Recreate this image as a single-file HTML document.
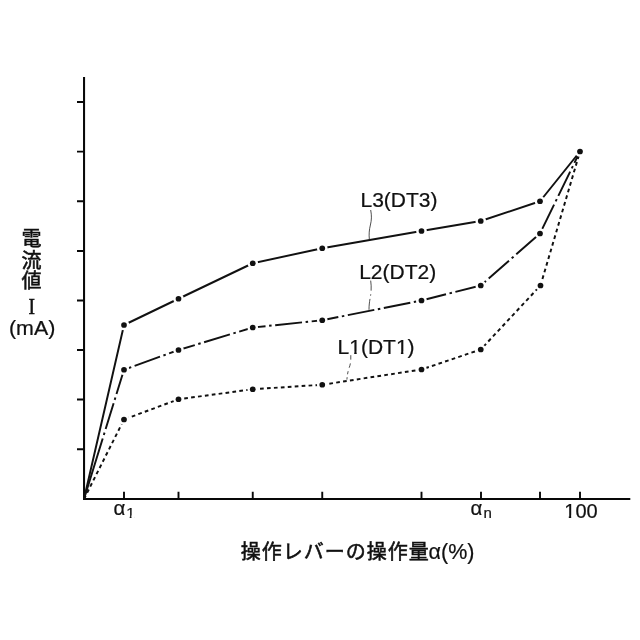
<!DOCTYPE html>
<html lang="ja">
<head>
<meta charset="utf-8">
<title>電流値 - 操作レバーの操作量</title>
<style>
html,body{margin:0;padding:0;background:#fff;}
body{width:640px;height:640px;overflow:hidden;position:relative;font-family:"Liberation Sans","Noto Sans CJK JP",sans-serif;color:#111;}
svg{position:absolute;left:0;top:0;display:block;}
text{font-family:"Liberation Sans","Noto Sans CJK JP",sans-serif;fill:#111;stroke:#111;stroke-width:0.22px;}
.ax{stroke:#080808;stroke-width:2.05;fill:none;stroke-linecap:butt;}
.tk{stroke-width:1.9;}
.ln{stroke:#111;stroke-width:1.95;fill:none;stroke-linejoin:round;}
.dot{fill:#111;stroke:#fff;stroke-width:5;paint-order:stroke;}
.jp{stroke:#111;stroke-width:0.55px;}
.ld{stroke:#222;stroke-width:0.8;fill:none;}
</style>
</head>
<body>
<svg width="640" height="640" viewBox="0 0 640 640">
<rect width="640" height="640" fill="#fff"/>
<!-- axes -->
<path class="ax" d="M84.05 77V500M83.1 499H630.3"/>
<path class="ax tk" d="M77 102H84M77 151.6H84M77 201.3H84M77 251H84M77 300.5H84M77 350H84M77 399.5H84M77 449.2H84"/>
<path class="ax tk" d="M124 491.7V499M178.5 491.7V499M252.75 491.7V499M322.25 491.7V499M421.5 491.7V499M481 491.7V499M540 491.7V499M580 491.7V499"/>
<!-- curves -->
<polyline class="ln" points="84,499 124,325 178.5,298.75 252.75,263.25 322.25,248.25 421.5,231 480.75,221 540,201.25 580,151.5"/>
<polyline class="ln" stroke-dasharray="63.3 3.7 2.5 3.7 27 3.6 2.5 3.6 27 3.6 2.5 3.6 27 3.6 2.5 3.6 27 3.6 2.5 3.6 27 3.6 2.5 3.6 27 3.6 2.5 3.6 27 3.6 2.5 3.6 27 3.6 2.5 3.6 27 3.6 2.5 3.6 27 3.6 2.5 3.6 27 3.6 2.5 3.6 27 3.6 2.5 3.6 27 3.6 2.5 3.6 27 3.6 2.5 3.6 27 3.6 2.5 3.6 27 3.6 2.5 3.6 27 3.6 2.5 3.6 27 3.6 2.5 3.6" points="84,499 124,369.75 178.5,350 252.75,327.5 322.25,320.25 421.5,300.5 480.75,285.5 540,233.5 580,151.5"/>
<polyline class="ln" stroke-dasharray="3.7 3.25" points="84,499 124,419.5 178.5,399.25 252.75,389.25 322.25,384.75 421.5,369.5 480.75,349.5 540.5,285.5 580,151.5"/>
<!-- markers -->
<g class="dot">
<circle cx="124" cy="325" r="2.85"/><circle cx="178.5" cy="298.75" r="2.85"/><circle cx="252.75" cy="263.25" r="2.85"/><circle cx="322.25" cy="248.25" r="2.85"/><circle cx="421.5" cy="231" r="2.85"/><circle cx="480.75" cy="221" r="2.85"/><circle cx="540" cy="201.25" r="2.85"/>
<circle cx="124" cy="369.75" r="2.85"/><circle cx="178.5" cy="350" r="2.85"/><circle cx="252.75" cy="327.5" r="2.85"/><circle cx="322.25" cy="320.25" r="2.85"/><circle cx="421.5" cy="300.5" r="2.85"/><circle cx="480.75" cy="285.5" r="2.85"/><circle cx="540" cy="233.5" r="2.85"/>
<circle cx="124" cy="419.5" r="2.85"/><circle cx="178.5" cy="399.25" r="2.85"/><circle cx="252.75" cy="389.25" r="2.85"/><circle cx="322.25" cy="384.75" r="2.85"/><circle cx="421.5" cy="369.5" r="2.85"/><circle cx="480.75" cy="349.5" r="2.85"/><circle cx="540.5" cy="285.5" r="2.85"/>
<circle cx="580" cy="151.5" r="2.85"/>
</g>
<!-- leaders -->
<path class="ld" d="M370.7 210C371.8 216 371.6 220 370.4 225C369.2 230 368.8 234 369.4 240"/>
<path class="ld" stroke-dasharray="10.2 3.6 1.4 3.2 12 9" d="M370.7 280.6C371.4 286 371.4 290 370.6 295.4C369.8 300 369 304 369 309.8"/>
<path class="ld" stroke-dasharray="4.3 3.9 4.5 3.7 3.2 3 9 9" d="M350.8 355.2C351 360 350.6 364 349.2 367.7C348 371 347.3 374.5 346.9 379.6"/>
<!-- labels -->
<text x="360.5" y="206.6" font-size="21">L3(DT3)</text>
<text x="359.2" y="278.6" font-size="21">L2(DT2)</text>
<text x="337.6" y="354.3" font-size="21">L1(DT1)</text>
<g font-size="20" text-anchor="middle">
<text x="31.5" y="246.3" class="jp">電</text>
<text x="31.5" y="267.5" class="jp">流</text>
<text x="31.5" y="288.3" class="jp">値</text>
</g>
<text transform="translate(31.9 314.3) scale(0.82 1)" font-size="24" text-anchor="middle" style="font-family:'Liberation Serif',serif;stroke:#111;stroke-width:0.5px">I</text>
<text transform="translate(32.1 335.2) scale(1.07 1)" font-size="20" text-anchor="middle">(mA)</text>
<text x="113.6" y="514.6" font-size="20.5">α<tspan font-size="15.5" dy="3.5" dx="0.8">1</tspan></text>
<text x="470.6" y="514.8" font-size="20.5">α<tspan font-size="15" dy="3.4" dx="1">n</tspan></text>
<text x="564.3" y="518" font-size="20">100</text>
<text class="jp" x="240.8" y="559" font-size="20" letter-spacing="1">操作レバーの操作量</text>
<text x="428.6" y="558.9" font-size="21.5">α(%)</text>
<path fill="#fff" d="M349.6 351.6H354.2V354.3H349.6ZM356.7 351.6H360.2V354.3H356.7ZM396.5 351.6H400.9V354.3H396.5ZM403.4 351.6H407.3V354.3H403.4ZM564.5 515.5H568.8V518.3H564.5ZM571.2 515.5H575V518.3H571.2ZM126.3 515.5H129.7V518.3H126.3ZM131.5 515.5H134.8V518.3H131.5Z"/>
</svg>
</body>
</html>
